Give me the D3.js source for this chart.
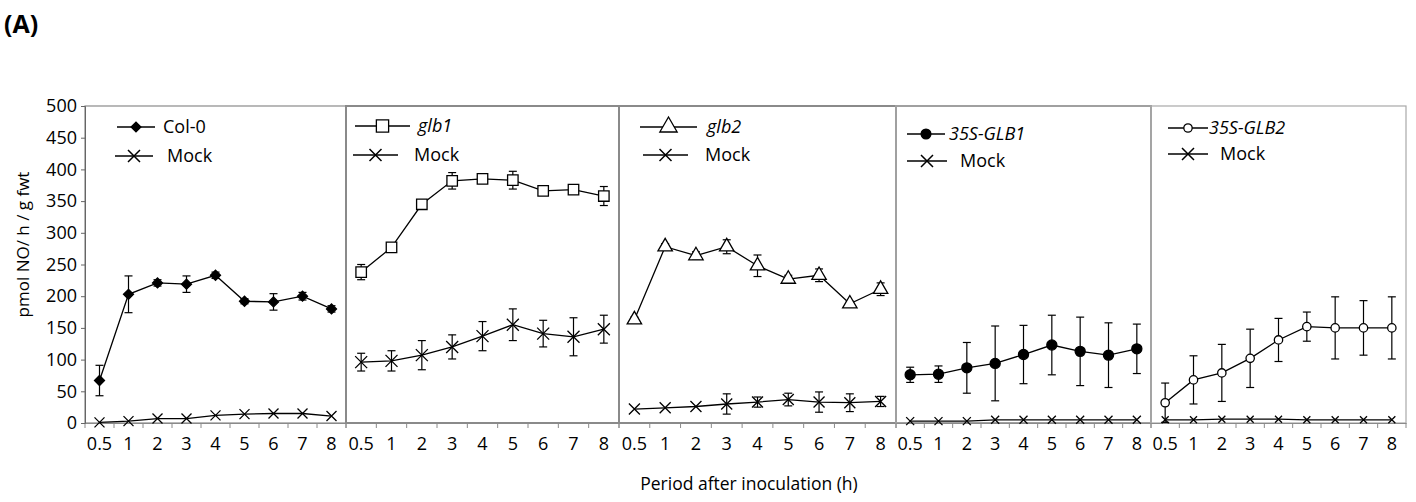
<!DOCTYPE html>
<html>
<head>
<meta charset="utf-8">
<script src="https://cdn.jsdelivr.net/npm/d3@7"></script>
<style>
  body { margin: 0; background: #fff; }
  svg text { font-family: "Open Sans", sans-serif; fill: #000; }
</style>
</head>
<body>
<div id="chart"></div>
<script>
// hours after inoculation (categorical axis, like the original spreadsheet chart)
const categories = ["0.5", "1", "2", "3", "4", "5", "6", "7", "8"];
const yTicks = [0, 50, 100, 150, 200, 250, 300, 350, 400, 450, 500];

// Col-0
const col0 = [67, 203, 221, 219, 233, 192, 191, 200, 180];
const col0Err = [24, 29, 5, 13, 5, 4, 13, 6, 5];
const col0Mock = [1, 3, 7, 7, 12, 14, 15, 15, 11];
const col0MockErr = [0, 0, 0, 0, 0, 0, 0, 0, 0];

// glb1
const glb1 = [238, 277, 345, 382, 385, 383, 366, 368, 358];
const glb1Err = [12, 4, 6, 13, 3, 14, 5, 4, 15];
const glb1Mock = [96, 98, 107, 120, 137, 155, 141, 136, 148];
const glb1MockErr = [14, 16, 23, 19, 23, 25, 21, 30, 22];

// glb2
const glb2 = [163, 278, 264, 278, 248, 227, 233, 188, 211];
const glb2Err = [4, 5, 6, 11, 17, 6, 10, 4, 10];
const glb2Mock = [22, 24, 26, 30, 33, 37, 33, 32, 34];
const glb2MockErr = [0, 0, 0, 16, 8, 10, 16, 14, 8];

// 35S-GLB1
const ox1 = [76, 77, 87, 94, 108, 123, 113, 107, 117];
const ox1Err = [12, 13, 40, 59, 46, 47, 54, 51, 39];
const ox1Mock = [3, 3, 3, 5, 5, 5, 5, 5, 5];
const ox1MockErr = [0, 0, 0, 0, 0, 0, 0, 0, 0];

// 35S-GLB2
const ox2 = [32, 68, 79, 102, 131, 152, 150, 150, 150];
const ox2Err = [31, 38, 45, 46, 34, 23, 49, 43, 49];
const ox2Mock = [5, 5, 6, 6, 6, 5, 5, 5, 5];
const ox2MockErr = [0, 0, 0, 0, 0, 0, 0, 0, 0];

const W = 1416, H = 502;
const plotTop = 106, plotBottom = 423;

const svg = d3.select("#chart").append("svg")
    .attr("width", W)
    .attr("height", H);

const y = d3.scaleLinear().domain([0, 500]).range([plotBottom, plotTop]);

// one entry per panel; layout and marker styles live here, values come from the arrays above
const panels = [
  {x0: 85, x1: 346, name: "Col-0", italic: false, mean: col0, err: col0Err, mock: col0Mock, mockErr: col0MockErr,
   sym: d3.symbolSquare, rot: 45, size: 50, fill: "#000", xs: 5,
   leg: {lx0: 117, lx1: 155, ly: 127, tx: 163, my: 156, mx0: 115, mx1: 153, mtx: 167, lsize: 48, xsL: 6}},
  {x0: 346, x1: 619, name: "glb1", italic: true, mean: glb1, err: glb1Err, mock: glb1Mock, mockErr: glb1MockErr,
   sym: d3.symbolSquare, rot: 0, size: 110, fill: "#fff", xs: 6,
   leg: {lx0: 355, lx1: 410, ly: 126, tx: 418, my: 155, mx0: 353, mx1: 398, mtx: 414, lsize: 150, xsL: 6}},
  {x0: 619, x1: 896, name: "glb2", italic: true, mean: glb2, err: glb2Err, mock: glb2Mock, mockErr: glb2MockErr,
   sym: d3.symbolTriangle, rot: 0, size: 90, fill: "#fff", xs: 5.5,
   leg: {lx0: 640, lx1: 697, ly: 127, tx: 707, my: 155, mx0: 643, mx1: 688, mtx: 705, lsize: 130, xsL: 6}},
  {x0: 896, x1: 1151, name: "35S-GLB1", italic: true, mean: ox1, err: ox1Err, mock: ox1Mock, mockErr: ox1MockErr,
   sym: d3.symbolCircle, rot: 0, size: 80, fill: "#000", xs: 4,
   leg: {lx0: 907, lx1: 945, ly: 134, tx: 949, my: 161, mx0: 907, mx1: 947, mtx: 960, lsize: 75, xsL: 6}},
  {x0: 1151, x1: 1406, name: "35S-GLB2", italic: true, mean: ox2, err: ox2Err, mock: ox2Mock, mockErr: ox2MockErr,
   sym: d3.symbolCircle, rot: 0, size: 55, fill: "#fff", xs: 3.5,
   leg: {lx0: 1168, lx1: 1208, ly: 128, tx: 1209, my: 154, mx0: 1168, mx1: 1208, mtx: 1220, lsize: 55, xsL: 6}}
];

const borderColors = ["#8a8a8a", "#8a8a8a", "#8a8a8a", "#a0a0a0", "#a8a8a8"];

function xPath(cx, cy, s) {
  return `M${cx - s},${cy - s}L${cx + s},${cy + s}M${cx - s},${cy + s}L${cx + s},${cy - s}`;
}

panels.forEach((p, i) => {
  const x = d3.scaleBand().domain(categories).range([p.x0, p.x1]);
  const cx = d => x(d) + x.bandwidth() / 2;
  const g = svg.append("g");

  // panel frame
  g.append("rect")
      .attr("x", p.x0)
      .attr("y", plotTop)
      .attr("width", p.x1 - p.x0)
      .attr("height", plotBottom - plotTop)
      .attr("fill", "none")
      .attr("stroke", borderColors[i])
      .attr("stroke-width", (i === 0 || i === 4) ? 1.2 : 2);

  // x axis: labels at band centres, ticks at band edges
  const xa = g.append("g")
      .attr("transform", "translate(0," + plotBottom + ")")
      .call(d3.axisBottom(x).tickSize(0).tickPadding(14));
  xa.select(".domain").attr("stroke", "#8a8a8a");
  xa.selectAll("text").style("font-size", "18px").style("font-family", "Open Sans, sans-serif");
  g.selectAll(".edge")
    .data(categories.concat([null]))
    .join("line")
      .attr("x1", (d, k) => p.x0 + k * x.step())
      .attr("x2", (d, k) => p.x0 + k * x.step())
      .attr("y1", plotBottom)
      .attr("y2", plotBottom + 5)
      .attr("stroke", "#8a8a8a");

  const series = [
    {vals: p.mock, errs: p.mockErr},
    {vals: p.mean, errs: p.err}
  ];

  series.forEach(s => {
    const pts = categories.map((c, k) => ({c: c, v: s.vals[k], e: s.errs[k]}));

    // error bars
    const eb = g.append("g").attr("stroke", "#000").attr("stroke-width", 1.2);
    pts.filter(d => d.e > 0).forEach(d => {
      const xx = cx(d.c);
      eb.append("line").attr("x1", xx).attr("x2", xx).attr("y1", y(d.v + d.e)).attr("y2", y(Math.max(0, d.v - d.e)));
      eb.append("line").attr("x1", xx - 4).attr("x2", xx + 4).attr("y1", y(d.v + d.e)).attr("y2", y(d.v + d.e));
      if (d.v - d.e > 0)
        eb.append("line").attr("x1", xx - 4).attr("x2", xx + 4).attr("y1", y(d.v - d.e)).attr("y2", y(d.v - d.e));
    });

    g.append("path")
        .datum(pts)
        .attr("fill", "none")
        .attr("stroke", "#000")
        .attr("stroke-width", 1.3)
        .attr("d", d3.line().x(d => cx(d.c)).y(d => y(d.v)));
  });

  // mock markers
  g.append("g").selectAll("path")
    .data(categories.map((c, k) => ({c: c, v: p.mock[k]})))
    .join("path")
      .attr("d", d => xPath(cx(d.c), y(d.v), p.xs))
      .attr("stroke", "#000")
      .attr("stroke-width", 1.3)
      .attr("fill", "none");

  // genotype markers
  g.append("g").selectAll("path")
    .data(categories.map((c, k) => ({c: c, v: p.mean[k]})))
    .join("path")
      .attr("transform", d => "translate(" + cx(d.c) + "," + y(d.v) + ") rotate(" + p.rot + ")")
      .attr("d", d3.symbol().type(p.sym).size(p.size))
      .attr("fill", p.fill)
      .attr("stroke", "#000")
      .attr("stroke-width", 1.3);

  // legend
  const L = p.leg;
  const lg = g.append("g");
  lg.append("line").attr("x1", L.lx0).attr("x2", L.lx1).attr("y1", L.ly).attr("y2", L.ly)
      .attr("stroke", "#000").attr("stroke-width", 1.3);
  lg.append("path")
      .attr("transform", "translate(" + ((L.lx0 + L.lx1) / 2) + "," + L.ly + ") rotate(" + p.rot + ")")
      .attr("d", d3.symbol().type(p.sym).size(L.lsize))
      .attr("fill", p.fill).attr("stroke", "#000").attr("stroke-width", 1.3);
  lg.append("text").attr("x", L.tx).attr("y", L.ly + 6)
      .style("font-size", "18px")
      .style("font-style", p.italic ? "italic" : "normal")
      .text(p.name);
  lg.append("line").attr("x1", L.mx0).attr("x2", L.mx1).attr("y1", L.my).attr("y2", L.my)
      .attr("stroke", "#000").attr("stroke-width", 1.3);
  lg.append("path")
      .attr("d", xPath((L.mx0 + L.mx1) / 2, L.my, L.xsL))
      .attr("stroke", "#000").attr("stroke-width", 1.5).attr("fill", "none");
  lg.append("text").attr("x", L.mtx).attr("y", L.my + 6)
      .style("font-size", "18px")
      .text("Mock");
});

// y axis on the first panel only
const ya = svg.append("g")
    .attr("transform", "translate(85,0)")
    .call(d3.axisLeft(y).tickValues(yTicks).tickSize(4).tickPadding(4));
ya.select(".domain").attr("stroke", "#666");
ya.selectAll("line").attr("stroke", "#666");
ya.selectAll("text").style("font-size", "18px").style("font-family", "Open Sans, sans-serif");

svg.append("text")
    .attr("transform", "translate(29," + ((plotTop + plotBottom) / 2 - 20) + ") rotate(-90)")
    .attr("text-anchor", "middle")
    .style("font-size", "17px")
    .text("pmol NO/ h / g fwt");

svg.append("text")
    .attr("x", 749)
    .attr("y", 490)
    .attr("text-anchor", "middle")
    .style("font-size", "17.5px")
    .text("Period after inoculation (h)");

svg.append("text")
    .attr("x", 4)
    .attr("y", 33)
    .style("font-size", "25px")
    .style("font-weight", "bold")
    .text("(A)");
</script>
</body>
</html>
